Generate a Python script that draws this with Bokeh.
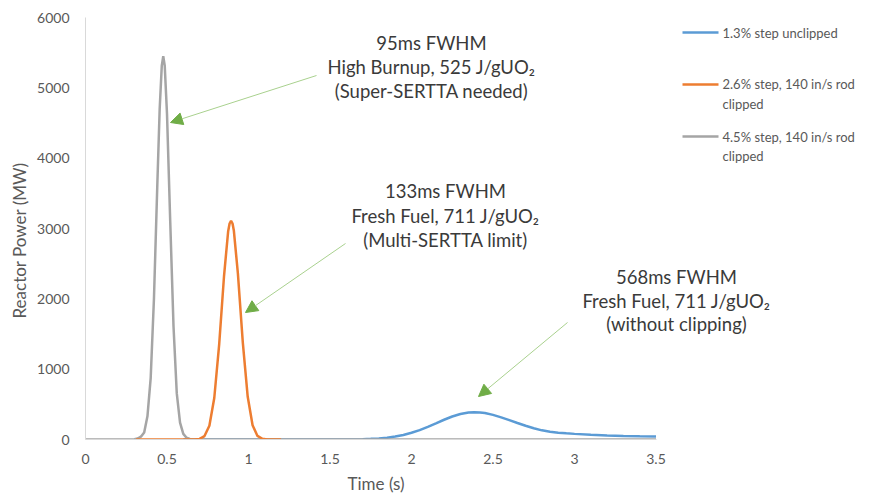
from bokeh.plotting import figure
from bokeh.models import Range1d, FixedTicker, Arrow, NormalHead, Title
from bokeh.core.properties import value
from bokeh.embed import file_html
from bokeh.resources import INLINE

# ---------------- data ----------------
series_labels = ["1.3% step unclipped",
                 ["2.6% step, 140 in/s rod", "clipped"],
                 ["4.5% step, 140 in/s rod", "clipped"]]

blue_t = [0.6, 1.5, 1.6, 1.7, 1.75, 1.8, 1.85, 1.9, 1.95, 2.0, 2.05, 2.1, 2.15, 2.2, 2.25,
          2.3, 2.35, 2.385, 2.42, 2.45, 2.5, 2.55, 2.6, 2.65, 2.7, 2.75, 2.8, 2.85, 2.9,
          2.95, 3.0, 3.1, 3.2, 3.3, 3.4, 3.5]
blue_p = [0, 0, 1, 5, 9, 15, 26, 42, 65, 96, 134, 180, 230, 281, 327,
          362, 383, 388, 384, 376, 350, 315, 276, 235, 195, 160, 130, 110, 97,
          88, 80, 67, 57, 50, 45, 41]

orange_t = [0.31, 0.62, 0.67, 0.70, 0.73, 0.76, 0.79, 0.82, 0.85, 0.875, 0.884, 0.893,
            0.902, 0.91, 0.935, 0.965, 0.995, 1.025, 1.055, 1.085, 1.115, 1.2]
orange_p = [0, 0, 1, 9, 49, 195, 590, 1349, 2328, 2957, 3071, 3110,
            3071, 2972, 2359, 1381, 611, 203, 51, 10, 1, 0]

gray_t = [0.0, 0.28, 0.30, 0.32, 0.34, 0.36, 0.38, 0.40, 0.42, 0.44, 0.455, 0.468, 0.477,
          0.486, 0.50, 0.52, 0.54, 0.56, 0.58, 0.60, 0.62, 0.64, 0.67, 3.5]
gray_p = [0, 0, 4, 14, 40, 100, 330, 877, 2005, 3575, 4695, 5316, 5450,
          5316, 4630, 3085, 1606, 655, 240, 80, 25, 8, 0, 0]

x_ticks = [0, 0.5, 1, 1.5, 2, 2.5, 3, 3.5]
x_tick_labels = ["0", "0.5", "1", "1.5", "2", "2.5", "3", "3.5"]
y_ticks = [0, 1000, 2000, 3000, 4000, 5000, 6000]
y_tick_labels = ["0", "1000", "2000", "3000", "4000", "5000", "6000"]

x_title = "Time (s)"
y_title = "Reactor Power (MW)"

notes = [["95ms FWHM", "High Burnup, 525 J/gUO\u2082", "(Super-SERTTA needed)"],
         ["133ms FWHM", "Fresh Fuel, 711 J/gUO\u2082", "(Multi-SERTTA limit)"],
         ["568ms FWHM", "Fresh Fuel, 711 J/gUO\u2082", "(without clipping)"]]

# ---------------- styling / layout ----------------
BLUE, ORANGE, GRAY = "#5B9BD5", "#ED7D31", "#A5A5A5"
FONT = "Lato"
TXT = "#595959"

W, H = 879, 497
LEFT, TOP, BOTTOM = 85, 17, 58
PX_PER_S = 163.0
x_end = (W - LEFT) / PX_PER_S
PX_PER_MW = (H - TOP - BOTTOM) / 6000.0

def dx(px):
    return (px - LEFT) / PX_PER_S

def dy(py):
    return (H - BOTTOM - py) / PX_PER_MW

p = figure(width=W, height=H, x_range=Range1d(0, x_end), y_range=Range1d(0, 6000),
           output_backend="svg", toolbar_location=None,
           min_border_left=LEFT, min_border_right=0, min_border_top=TOP,
           min_border_bottom=BOTTOM)
p.outline_line_color = None
p.xgrid.visible = False
p.ygrid.visible = False
p.background_fill_color = "white"
p.border_fill_color = "white"

for ax in (p.xaxis[0], p.yaxis[0]):
    ax.axis_line_color = "#D9D9D9"
    ax.axis_line_width = 1
    ax.major_tick_line_color = None
    ax.minor_tick_line_color = None
    ax.major_tick_out = 0
    ax.major_tick_in = 0
    ax.major_label_text_font = FONT
    ax.major_label_text_font_size = "14px"
    ax.major_label_text_color = TXT

p.xaxis.bounds = (0, 3.5)
p.xaxis.ticker = FixedTicker(ticks=x_ticks)
p.xaxis.major_label_overrides = {t: l for t, l in zip(x_ticks, x_tick_labels)}
p.xaxis.major_label_standoff = 14
p.yaxis.ticker = FixedTicker(ticks=y_ticks)
p.yaxis.major_label_overrides = {t: l for t, l in zip(y_ticks, y_tick_labels)}
p.yaxis.major_label_standoff = 16

# axis titles as side titles (so they can be positioned along the bounded axis)
p.add_layout(Title(text=x_title, align="left", offset=262, standoff=8,
                   text_font=FONT, text_font_size="17px", text_font_style="normal",
                   text_color=TXT), "below")
p.add_layout(Title(text=y_title, align="left", offset=121, standoff=10,
                   text_font=FONT, text_font_size="17px", text_font_style="normal",
                   text_color=TXT), "left")

# series
p.line(blue_t, blue_p, line_color=BLUE, line_width=2.5)
p.line(gray_t, gray_p, line_color=GRAY, line_width=2.5)
p.line(orange_t, orange_p, line_color=ORANGE, line_width=2.5)

# annotations
note_pos = [(431, [42, 66, 90]), (445, [190, 215, 239]), (676, [276, 300, 323])]
for lines, (cx, ys) in zip(notes, note_pos):
    for line, py in zip(lines, ys):
        p.text(x=[dx(cx)], y=[dy(py)], text=[line], text_align="center",
               text_baseline="middle", text_font=value(FONT), text_font_size="18.5px",
               text_color="#3A3A3A")

arrows = [((316, 75), (170, 122)), ((345, 243), (245, 312)), ((567, 322), (478, 396))]
for (sx, sy), (ex, ey) in arrows:
    p.add_layout(Arrow(end=NormalHead(size=12, fill_color="#70AD47", line_color="#70AD47"),
                       x_start=dx(sx), y_start=dy(sy), x_end=dx(ex), y_end=dy(ey),
                       line_color="#A9D18E", line_width=1))

# legend (drawn manually to allow wrapped labels)
leg = [(BLUE, 32, [32]), (ORANGE, 84, [83, 103]), (GRAY, 136, [136, 155])]
for (col, ly, tys), lab in zip(leg, series_labels):
    p.line([dx(682), dx(718)], [dy(ly), dy(ly)], line_color=col, line_width=2.5)
    labs = lab if isinstance(lab, list) else [lab]
    for t, ty in zip(labs, tys):
        p.text(x=[dx(722)], y=[dy(ty)], text=[t], text_align="left",
               text_baseline="middle", text_font=value(FONT), text_font_size="13px",
               text_color=TXT)

open("out.html", "w").write(file_html(p, INLINE))
